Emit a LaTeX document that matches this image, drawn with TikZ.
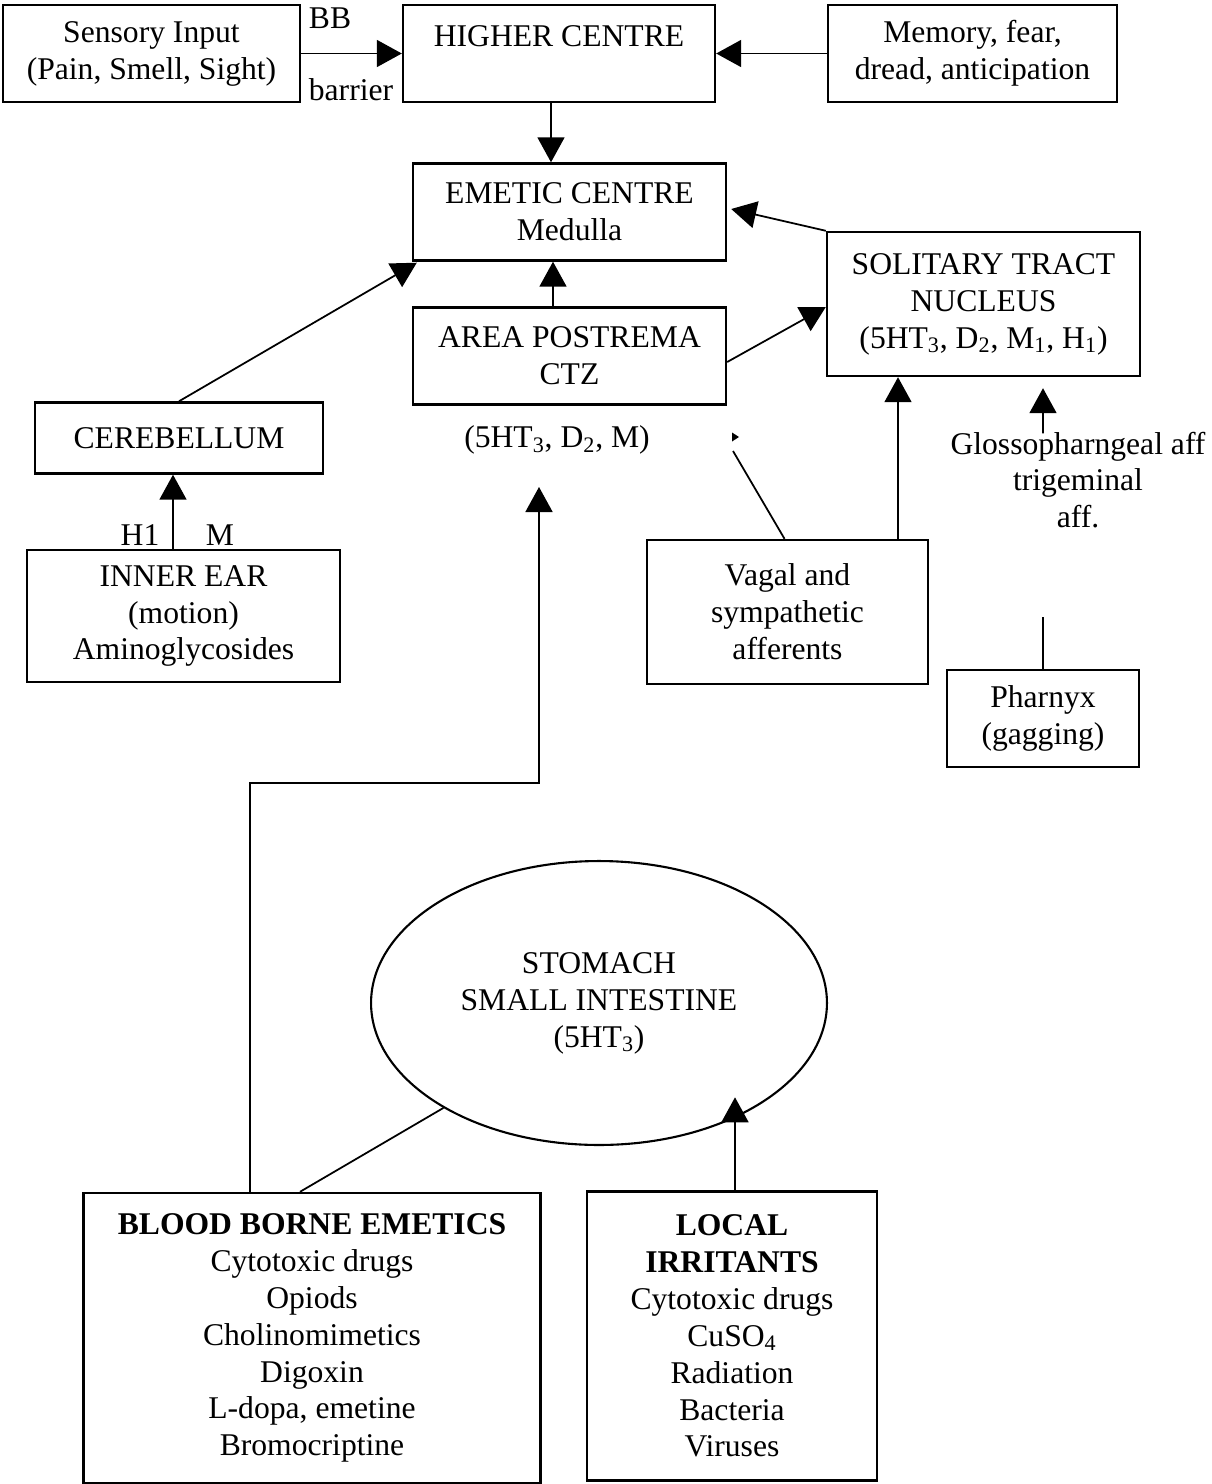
\documentclass[tikz,border=0pt]{standalone}
\usepackage{fontspec}
\setmainfont{Liberation Serif}
\usetikzlibrary{positioning, arrows.meta, shapes.geometric, calc}

\begin{document}
\begin{tikzpicture}[
  x=0.02cm, y=-0.02cm,
  font=\fontsize{18}{21}\selectfont,
  box/.style={draw, line width=1.4pt, align=center, inner sep=0pt},
  tag/.style={align=center, inner sep=0pt},
  arrow/.style={-{Triangle[length=0.5cm, width=0.54cm]}, line width=1pt},
  link/.style={line width=1pt}
]
\useasboundingbox (0,0) rectangle (1212,1484);

% Top row
\node[box, minimum width=5.94cm, minimum height=1.94cm] (sens) at (151.5,53.5) {Sensory Input\\(Pain, Smell, Sight)};
\node[box, minimum width=6.24cm, minimum height=1.94cm] (higher) at (559,53.5) {\rule{0pt}{19pt}HIGHER CENTRE\\\strut};
\node[box, minimum width=5.78cm, minimum height=1.94cm] (memory) at (972.5,53.5) {Memory, fear,\\dread, anticipation};
\node[tag] (bblab) at (330,18) {BB};
\node[tag] (barlab) at (351,90) {barrier};

% Brain stem
\node[box, minimum width=6.26cm, minimum height=1.94cm] (emetic) at (569.5,212) {EMETIC CENTRE\\Medulla};
\node[box, minimum width=6.26cm, minimum height=1.94cm] (postrema) at (569.5,356) {AREA POSTREMA\\CTZ};
\node[tag] (aplab) at (557,440) {(5HT\textsubscript{3}, D\textsubscript{2}, M)};
\node[box, minimum width=6.26cm, minimum height=2.88cm] (stn) at (983.5,304) {SOLITARY TRACT\\NUCLEUS\\(5HT\textsubscript{3}, D\textsubscript{2}, M\textsubscript{1}, H\textsubscript{1})};

% Left column
\node[box, minimum width=5.76cm, minimum height=1.42cm] (cereb) at (179,438) {CEREBELLUM};
\node[box, minimum width=6.26cm, minimum height=2.64cm] (ear) at (183.5,616) {INNER EAR\\(motion)\\Aminoglycosides};
\node[tag] (h1lab) at (140,535) {H1};
\node[tag] (mlab) at (220,535) {M};

% Right column
\node[box, minimum width=5.62cm, minimum height=2.88cm] (vagal) at (787.5,612) {Vagal and\\sympathetic\\afferents};
\node[tag] (glosso) at (1078,480) {Glossopharngeal aff\\trigeminal\\aff.};
\node[box, minimum width=3.84cm, minimum height=1.94cm] (pharynx) at (1043,718.5) {Pharnyx\\(gagging)};

% Gut and emetics
\node[ellipse, draw, line width=1.2pt, minimum width=9.12cm, minimum height=5.68cm, inner sep=0pt, align=center] (stomach) at (599,1003) {STOMACH\\SMALL INTESTINE\\(5HT\textsubscript{3})};
\node[box, minimum width=9.14cm, minimum height=5.8cm] (blood) at (312,1338) {\textbf{BLOOD BORNE EMETICS}\\Cytotoxic drugs\\Opiods\\Cholinomimetics\\Digoxin\\L-dopa, emetine\\Bromocriptine};
\node[box, minimum width=5.8cm, minimum height=5.78cm] (local) at (732,1336) {\textbf{LOCAL}\\\textbf{IRRITANTS}\\Cytotoxic drugs\\CuSO\textsubscript{4}\\Radiation\\Bacteria\\Viruses};

\coordinate (vagtip) at (732,437);
\coordinate (vagend) at (733,451);
\coordinate (pharend) at (1043,617);
\coordinate (aptip) at (539,487);

% Connections
\draw[arrow] (sens.east) -- (higher.west);
\draw[arrow] (memory.west) -- (higher.east);
\draw[arrow] ($(higher.south)+(-8,0)$) -- ($(emetic.north)+(-18.5,0)$);
\draw[arrow] ($(postrema.north)+(-16.5,0)$) -- ($(emetic.south)+(-16.5,0)$);
\draw[arrow] (stn.north west) -- ($(emetic.east)+(4,-3)$);
\draw[arrow] ($(postrema.east)+(0,6)$) -- ($(stn.west)+(0,3)$);
\draw[arrow] (cereb.north) -- ($(emetic.south west)+(5,1)$);
\draw[arrow] ($(ear.north)+(-10.5,0)$) -- ($(cereb.south)+(-6,0)$);
\draw[arrow] ($(vagal.north)+(110.5,0)$) -- ($(stn.south)+(-85.5,0)$);
\draw[link] ($(vagal.north)+(-3,0)$) -- (vagend);
\fill ($(vagtip)+(0,-4.5)$) -- ($(vagtip)+(7,0)$) -- ($(vagtip)+(0,4.5)$) -- cycle;
\draw[arrow] ($(glosso.north)+(-35,2)$) -- ($(stn.south)+(59.5,11)$);
\draw[link] (pharynx.north) -- (pharend);
\draw[arrow] ($(blood.north west)+(168,0)$) -- ++(0,-409) -| (aptip);
\draw[link] ($(blood.north)+(-12,0)$) -- (stomach.214);
\draw[arrow] ($(local.north)+(3,0)$) -- ($(local.north)+(3,-93)$);

\end{tikzpicture}
\end{document}
